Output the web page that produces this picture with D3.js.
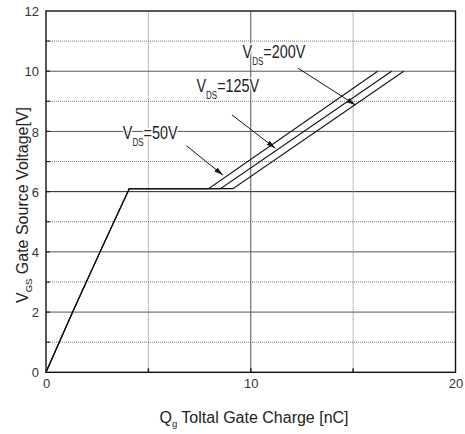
<!DOCTYPE html>
<html>
<head>
<meta charset="utf-8">
<script src="https://cdn.jsdelivr.net/npm/d3@7"></script>
<style>
  body { margin: 0; background: #fff; }
  text { font-family: "Liberation Sans", Arial, sans-serif; fill: #222; }
</style>
</head>
<body>
<svg id="chart" width="465" height="434"></svg>
<script>
// values
var xTicks = [0, 10, 20];
var yTicks = [0, 2, 4, 6, 8, 10, 12];
var xGrid = [5, 10, 15];
var yGrid = [1, 2, 3, 4, 5, 6, 7, 8, 9, 10, 11];

var gateVoltage   = [0, 2, 4, 6.1, 6.1, 10];
var gateCharge50  = [0, 1.3, 2.64, 4.07, 7.94, 16.2];
var gateCharge125 = [0, 1.3, 2.64, 4.07, 8.52, 16.88];
var gateCharge200 = [0, 1.3, 2.64, 4.07, 9.13, 17.47];

var labelNames = ["50V", "125V", "200V"];
var labelQ = [3.75, 7.35, 9.6];
var labelV = [7.75, 9.32, 10.45];
var arrowFromQ = [6.85, 9.08, 12.31];
var arrowFromV = [7.53, 8.55, 10.1];
var arrowToQ = [8.64, 11.2, 15.11];
var arrowToV = [6.55, 7.44, 8.88];

var margin = {"left": 46, "right": 9.5, "top": 11, "bottom": 61.7};
var width = 465, height = 434;

var svg = d3.select("#chart");

var x = d3.scaleLinear()
          .domain([0, 20])
          .range([margin.left, width - margin.right]);
var y = d3.scaleLinear()
          .domain([0, 12])
          .range([height - margin.bottom, margin.top]);

// arrow head
svg.append("defs").append("marker")
   .attr("id", "head")
   .attr("markerUnits", "userSpaceOnUse")
   .attr("markerWidth", 10).attr("markerHeight", 8)
   .attr("refX", 9).attr("refY", 2.5)
   .attr("orient", "auto")
   .append("path")
   .attr("d", "M0,0 L9,2.5 L0,5 Z")
   .attr("fill", "#111");

// grid: even values solid, odd values dotted
svg.selectAll(".hgrid").data(yGrid).enter().append("line")
   .attr("class", "hgrid")
   .attr("x1", x(0)).attr("x2", x(20))
   .attr("y1", function(d) { return y(d); })
   .attr("y2", function(d) { return y(d); })
   .attr("stroke", function(d) { return d == 6 ? "#222" : (d % 2 == 0 ? "#555" : "#777"); })
   .attr("stroke-width", 1)
   .attr("stroke-dasharray", function(d) { return d % 2 == 0 ? null : "1,1"; });

svg.selectAll(".vgrid").data(xGrid).enter().append("line")
   .attr("class", "vgrid")
   .attr("y1", y(0)).attr("y2", y(12))
   .attr("x1", function(d) { return x(d); })
   .attr("x2", function(d) { return x(d); })
   .attr("stroke", function(d) { return d % 10 == 0 ? "#555" : "#777"; })
   .attr("stroke-width", 1)
   .attr("stroke-dasharray", function(d) { return d % 10 == 0 ? null : "1,1"; });

// axes
var xAxis = d3.axisBottom(x).tickValues(xTicks).tickSize(0).tickPadding(9);
var yAxis = d3.axisLeft(y).tickValues(yTicks).tickSize(0).tickPadding(7);

var gx = svg.append("g")
            .attr("transform", "translate(0," + y(0) + ")")
            .call(xAxis);
var gy = svg.append("g")
            .attr("transform", "translate(" + x(0) + ",0)")
            .call(yAxis);

[gx, gy].forEach(function(g) {
  g.select(".domain").remove();
  g.selectAll("text")
   .attr("font-size", 13)
   .style("fill", "#333")
   .attr("font-family", "Liberation Sans, Arial, sans-serif");
});
gx.selectAll("text").attr("dy", "0.55em");
gy.selectAll("text").attr("dy", "0.36em");

// small inward ticks
svg.selectAll(".xtick").data(xGrid).enter().append("line")
   .attr("x1", function(d) { return x(d); })
   .attr("x2", function(d) { return x(d); })
   .attr("y1", y(0)).attr("y2", y(0) - 4)
   .attr("stroke", "#222").attr("stroke-width", 1.5);
svg.selectAll(".ytick").data(yGrid).enter().append("line")
   .attr("y1", function(d) { return y(d); })
   .attr("y2", function(d) { return y(d); })
   .attr("x1", x(0)).attr("x2", x(0) + 4)
   .attr("stroke", "#222").attr("stroke-width", 1.2);

// frame
svg.append("rect")
   .attr("x", x(0)).attr("y", y(12))
   .attr("width", x(20) - x(0))
   .attr("height", y(0) - y(12))
   .attr("fill", "none")
   .attr("stroke", "#111")
   .attr("stroke-width", 1.4);

// curves
var line = d3.line()
             .x(function(d) { return x(d[0]); })
             .y(function(d) { return y(d[1]); });

[gateCharge50, gateCharge125, gateCharge200].forEach(function(qs) {
  var pts = qs.map(function(q, i) { return [q, gateVoltage[i]]; });
  svg.append("path")
     .datum(pts)
     .attr("d", line)
     .attr("fill", "none")
     .attr("stroke", "#111")
     .attr("stroke-width", 1.1);
});

// annotation labels
labelNames.forEach(function(name, i) {
  var g = svg.append("g")
             .attr("transform", "translate(" + x(labelQ[i]) + "," + y(labelV[i]) + ") scale(0.8,1)");
  var t = g.append("text")
           .attr("font-size", 18)
           .attr("stroke", "#fff")
           .attr("stroke-width", 3)
           .attr("paint-order", "stroke")
           .style("fill", "#222");
  t.append("tspan").text("V");
  t.append("tspan").attr("font-size", 10).attr("dy", 7.5).text("DS");
  t.append("tspan").attr("dy", -7.5).text("=" + name);
});

// arrows
labelNames.forEach(function(name, i) {
  svg.append("line")
     .attr("x1", x(arrowFromQ[i])).attr("y1", y(arrowFromV[i]))
     .attr("x2", x(arrowToQ[i])).attr("y2", y(arrowToV[i]))
     .attr("stroke", "#111")
     .attr("stroke-width", 1)
     .attr("marker-end", "url(#head)");
});

// axis titles
var xt = svg.append("text")
            .attr("x", 254)
            .attr("y", 423)
            .attr("text-anchor", "middle")
            .attr("font-size", 16)
            .style("fill", "#222");
xt.append("tspan").text("Q");
xt.append("tspan").attr("font-size", 9.5).attr("dy", 4).text("g");
xt.append("tspan").attr("dy", -4).text(" Toltal Gate Charge [nC]");

var yt = svg.append("text")
            .attr("transform", "translate(28,205) rotate(-90)")
            .attr("text-anchor", "middle")
            .attr("font-size", 16)
            .style("fill", "#222");
yt.append("tspan").text("V");
yt.append("tspan").attr("font-size", 9.5).attr("dy", 4).text("GS");
yt.append("tspan").attr("dy", -4).text(" Gate Source Voltage[V]");
</script>
</body>
</html>
